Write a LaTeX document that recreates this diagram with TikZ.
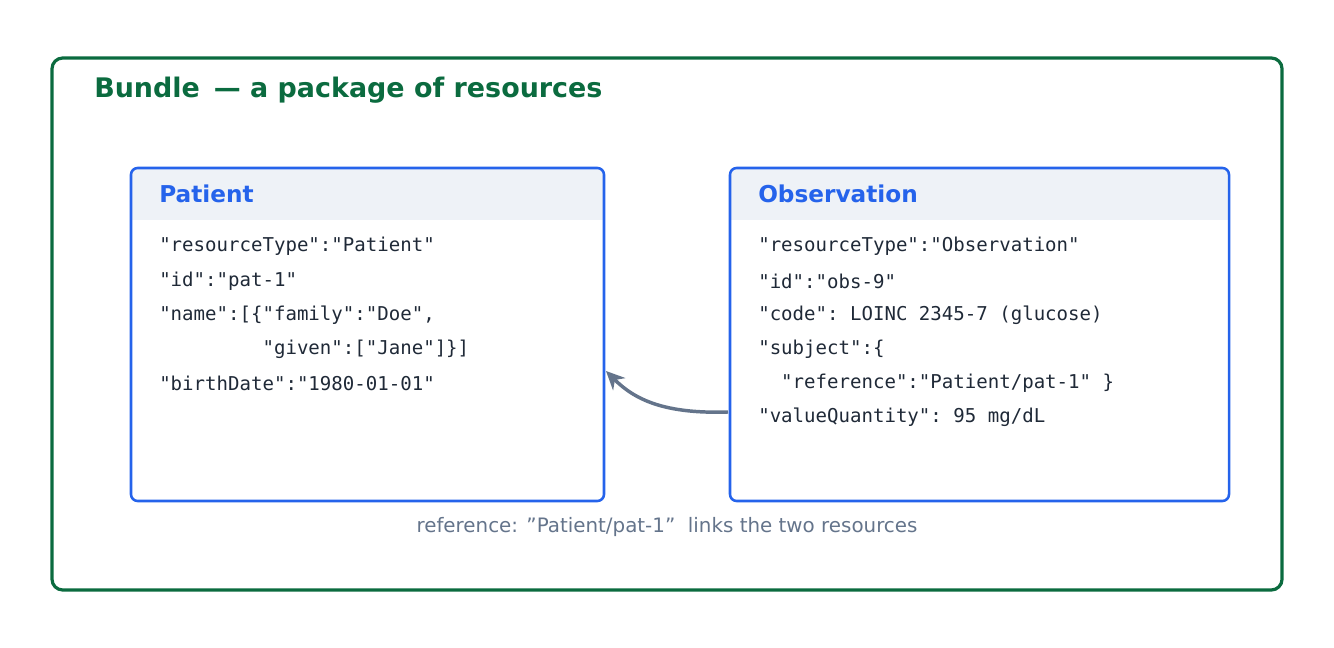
\documentclass[tikz,border=0pt]{standalone}
\usepackage{fontspec}
\setmainfont{DejaVu Sans}
\setmonofont{DejaVu Sans Mono}
\usetikzlibrary{arrows.meta}
\definecolor{bgreen}{HTML}{0B6B3F}
\definecolor{bblue}{HTML}{2563EB}
\definecolor{hdr}{HTML}{EEF2F7}
\definecolor{slate}{HTML}{64748B}
\definecolor{ink}{HTML}{1F2937}
\newcommand{\dq}{\char34\relax}
\begin{document}
\begin{tikzpicture}[x=0.75pt,y=-0.75pt,
  frame/.style={draw=bgreen,line width=2.4pt,rounded corners=8pt},
  res/.style={draw=bblue,line width=1.9pt,rounded corners=5pt},
  hdrtxt/.style={anchor=west,inner sep=0pt,text=bblue,font=\bfseries\fontsize{17.4}{20}\selectfont},
  code/.style={anchor=west,inner sep=0pt,text=ink,font=\ttfamily\fontsize{14.3}{17}\selectfont},
  link/.style={draw=slate,line width=2.6pt,-{Stealth[length=14pt,width=13pt]}}]
\useasboundingbox (0,0) rectangle (1334,648);
\draw[frame] (52,58) rectangle (1282,590);
\node[anchor=west,inner sep=0pt,text=bgreen,font=\bfseries\fontsize{20.2}{24}\selectfont] (title) at (94,90) {Bundle \,— a package of resources};
% Patient
\begin{scope}
\clip[rounded corners=5pt] (131,168) rectangle (604,501);
\fill[hdr] (131,168) rectangle (604,220);
\end{scope}
\draw[res] (131,168) rectangle (604,501);
\node[hdrtxt] (ph) at (159,194) {Patient};
\node[code] at (159,246) {"resourceType":"Patient"};
\node[code] at (159,281) {"id":"pat-1"};
\node[code] at (159,315) {"name":[\{"family":"Doe",};
\node[code] at (159,349) {\ \ \ \ \ \ \ \ \ "given":["Jane"]\}]};
\node[code] at (159,383) {"birthDate":"1980-01-01"};
% Observation
\begin{scope}
\clip[rounded corners=5pt] (730,168) rectangle (1229,501);
\fill[hdr] (730,168) rectangle (1229,220);
\end{scope}
\draw[res] (730,168) rectangle (1229,501);
\node[hdrtxt] (oh) at (758,194) {Observation};
\node[code] at (758,246) {"resourceType":"Observation"};
\node[code] at (758,281) {"id":"obs-9"};
\node[code] at (758,315) {"code": LOINC 2345-7 (glucose)};
\node[code] at (758,349) {"subject":\{};
\node[code] at (758,383) {\ \ "reference":"Patient/pat-1" \}};
\node[code] at (758,417) {"valueQuantity": 95 mg/dL};
\coordinate (os) at (728,412);
\coordinate (pt) at (606,371);
\draw[link] (os) .. controls (665,414) and (635,400) .. (pt);
\node[text=slate,inner sep=0pt,font=\fontsize{14.9}{18}\selectfont] (cap) at (667,527) {reference: \dq Patient/pat-1\dq\ \ links the two resources};
\end{tikzpicture}
\end{document}
